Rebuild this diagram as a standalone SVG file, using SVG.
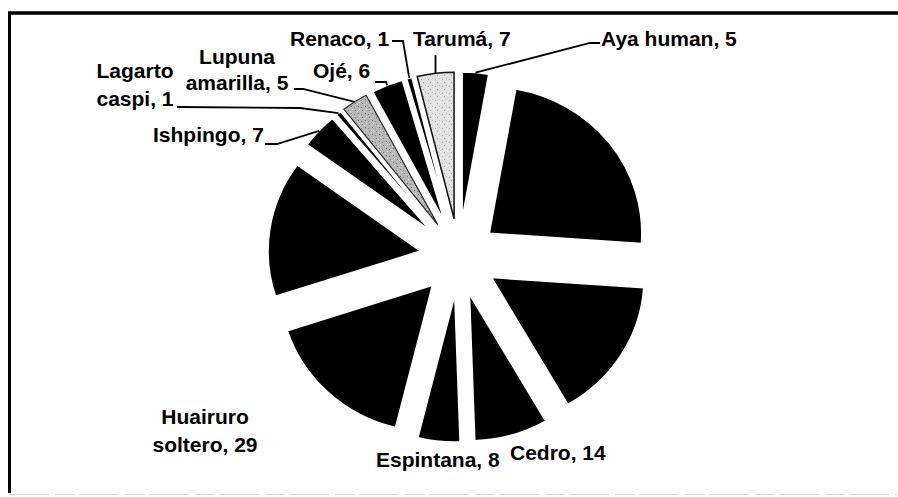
<svg xmlns="http://www.w3.org/2000/svg" width="898" height="497" viewBox="0 0 898 497">
<style>
  .slice { stroke: #ffffff; stroke-width: 1.5; stroke-linejoin: miter; }
  .dark { fill: #000000; }
  .lbl { font-family: "Liberation Sans", Arial, sans-serif; font-weight: bold; font-size: 21px; fill: #000000; }
  .mid { text-anchor: middle; }
  .lead { fill: none; stroke: #000000; stroke-width: 1.8; }
  .frame { stroke: #000000; fill: none; }
</style>
<defs>
  <pattern id="speckMid" width="7" height="7" patternUnits="userSpaceOnUse">
    <rect width="7" height="7" fill="#b8b8b8"/>
    <rect x="1" y="1" width="1" height="1" fill="#6e6e6e"/>
    <rect x="4" y="2" width="1" height="1" fill="#808080"/>
    <rect x="2" y="4" width="1" height="1" fill="#e2e2e2"/>
    <rect x="5" y="5" width="1" height="1" fill="#7a7a7a"/>
    <rect x="0" y="6" width="1" height="1" fill="#dadada"/>
  </pattern>
  <pattern id="speckLight" width="7" height="7" patternUnits="userSpaceOnUse">
    <rect width="7" height="7" fill="#e2e2e2"/>
    <rect x="1" y="2" width="1" height="1" fill="#a8a8a8"/>
    <rect x="5" y="1" width="1" height="1" fill="#bdbdbd"/>
    <rect x="3" y="5" width="1" height="1" fill="#9e9e9e"/>
    <rect x="6" y="4" width="1" height="1" fill="#f6f6f6"/>
  </pattern>
</defs>
<rect x="0" y="0" width="898" height="497" fill="#ffffff"/>
<g id="frame">
  <line class="frame" x1="8" y1="13" x2="898" y2="13" stroke-width="3.5"/>
  <line class="frame" x1="9.5" y1="12" x2="9.5" y2="493" stroke-width="3"/>
  <line x1="9" y1="494.5" x2="898" y2="494.5" stroke="#d8d8d8" stroke-width="1.2" stroke-dasharray="40 6 20 4"/>
</g>
<g id="slices">
  <g id="aya-human"><path class="slice dark" d="M462.17,218.55 L462.17,72.05 A152.5,146.5 0 0,1 488.65,74.28 Z"/></g>
  <g id="slice-2"><path class="slice dark" d="M489.30,233.27 L515.78,89.00 A152.5,146.5 0 0,1 641.43,243.49 Z"/></g>
  <g id="slice-3"><path class="slice dark" d="M491.62,277.61 L643.75,287.83 A152.5,146.5 0 0,1 567.87,404.48 Z"/></g>
  <g id="cedro"><path class="slice dark" d="M469.47,294.30 L545.72,421.17 A152.5,146.5 0 0,1 474.79,440.71 Z"/></g>
  <g id="espintana"><path class="slice dark" d="M454.75,295.59 L460.07,442.00 A152.5,146.5 0 0,1 417.86,437.74 Z"/></g>
  <g id="huairuro-soltero"><path class="slice dark" d="M432.41,285.40 L395.52,427.55 A152.5,146.5 0 0,1 287.37,330.67 Z"/></g>
  <g id="slice-7"><path class="slice dark" d="M420.58,251.05 L275.54,296.32 A152.5,146.5 0 0,1 297.20,164.94 Z"/></g>
  <g id="ishpingo"><path class="slice dark" d="M430.50,230.71 L307.12,144.60 A152.5,146.5 0 0,1 332.47,118.49 Z"/></g>
  <g id="lagarto-caspi"><path class="slice dark" d="M434.45,227.02 L336.42,114.80 A152.5,146.5 0 0,1 340.56,111.58 Z"/></g>
  <g id="lupuna-amarilla"><path d="M437.72,224.64 L343.83,109.20 A152.5,146.5 0 0,1 366.13,95.29 Z" fill="url(#speckMid)" stroke="#2a2a2a" stroke-width="1.2"/></g>
  <g id="oje"><path class="slice dark" d="M444.30,221.22 L372.71,91.87 A152.5,146.5 0 0,1 402.26,80.40 Z"/></g>
  <g id="renaco"><path class="slice dark" d="M448.78,219.72 L406.74,78.90 A152.5,146.5 0 0,1 411.89,77.57 Z"/></g>
  <g id="taruma"><path d="M454.08,218.69 L417.19,76.54 A152.5,146.5 0 0,1 454.08,72.19 Z" fill="url(#speckLight)" stroke="#111111" stroke-width="1.5"/></g>
</g>
<g id="connectors">
  <path class="lead" d="M600,43 L590,43 L475.5,72.6"/>
  <path class="lead" d="M435.5,55 L435.5,73.5"/>
  <path class="lead" d="M392,41 L403,41 L409.3,78.2"/>
  <path class="lead" d="M375,82 L386,82 L387.2,85.4"/>
  <path class="lead" d="M294,89 L303,89 L354.7,101.8"/>
  <path class="lead" d="M177,107 L300,108 L338.5,113.2"/>
  <path class="lead" d="M265,144 L277,144 L319,130.8"/>
</g>
<g id="labels">
  <g id="lbl-aya"><text class="lbl" x="601" y="46">Aya human, 5</text></g>
  <g id="lbl-taruma"><text class="lbl" x="413" y="46">Tarumá, 7</text></g>
  <g id="lbl-renaco"><text class="lbl" x="290" y="46">Renaco, 1</text></g>
  <g id="lbl-oje"><text class="lbl" x="313" y="78">Ojé, 6</text></g>
  <g id="lbl-lupuna"><text class="lbl mid" x="237" y="64">Lupuna</text><text class="lbl mid" x="237" y="90">amarilla, 5</text></g>
  <g id="lbl-lagarto"><text class="lbl mid" x="135" y="78">Lagarto</text><text class="lbl mid" x="135" y="106">caspi, 1</text></g>
  <g id="lbl-ishpingo"><text class="lbl" x="153" y="142">Ishpingo, 7</text></g>
  <g id="lbl-huairuro"><text class="lbl mid" x="205" y="424">Huairuro</text><text class="lbl mid" x="205" y="452">soltero, 29</text></g>
  <g id="lbl-espintana"><text class="lbl" x="376" y="467">Espintana, 8</text></g>
  <g id="lbl-cedro"><text class="lbl" x="510" y="460">Cedro, 14</text></g>
</g>
</svg>
